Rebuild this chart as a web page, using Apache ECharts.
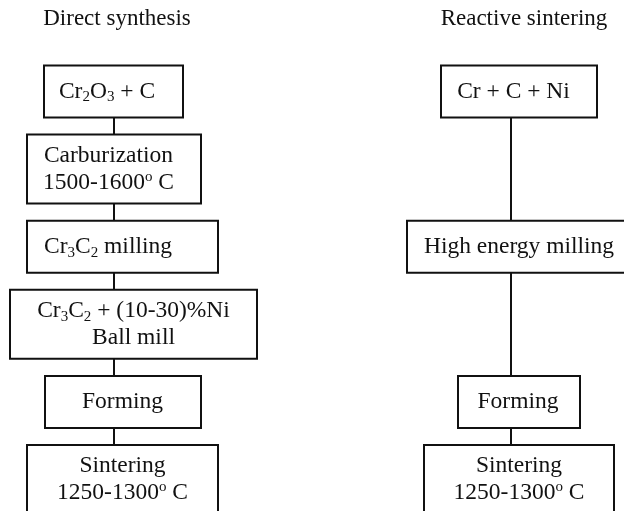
<!DOCTYPE html>
<html>
<head>
<meta charset="utf-8">
<script src="https://cdn.jsdelivr.net/npm/echarts@6/dist/echarts.min.js"></script>
<style>
  html, body { margin: 0; padding: 0; background: #fff; }
  #main { width: 624px; height: 511px; }
</style>
</head>
<body>
<div id="main"></div>
<script>
// two production routes, each a list of steps
const routes = ['Direct synthesis', 'Reactive sintering']
const directSteps = [
  'Cr{s|2}O{s|3} + C',
  'Carburization\n1500-1600{p|o} C',
  'Cr{s|3}C{s|2} milling',
  'Cr{s|3}C{s|2} + (10-30)%Ni\nBall mill',
  'Forming',
  'Sintering\n1250-1300{p|o} C'
]
const reactiveSteps = [
  'Cr + C + Ni',
  'High energy milling',
  'Forming',
  'Sintering\n1250-1300{p|o} C'
]
// row (level) of each step in the diagram
const directRows = [0, 1, 2, 3, 4, 5]
const reactiveRows = [0, 2, 4, 5]

// box layout (px): width, box offset from the connector, text offset
const boxLayout = [
  { w: [139, 174, 191, 247, 156, 191], dx: [-0.5, 0, 8.5, 19.5, 9, 8.5], tx: [-7, -5.5, -6, 19.5, 8.5, 8.5] },
  { w: [156, 232, 122, 190], dx: [8, 12, 8, 8], tx: [2.5, 8, 7, 8] }
]

const FONT = '"Liberation Serif", "Times New Roman", serif'
const INK = '#111'

const steps = [directSteps, reactiveSteps]
const rows = [directRows, reactiveRows]

const boxData = []
steps.forEach((list, col) => {
  list.forEach((s, i) => boxData.push([col, rows[col][i], i]))
})

const chart = echarts.init(document.getElementById('main'))

chart.setOption({
  animation: false,
  grid: { left: 114, right: 113, top: 91.5, bottom: 31.5 },
  xAxis: { type: 'value', min: 0, max: 1, show: false },
  yAxis: { type: 'value', min: 0, max: 5, inverse: true, show: false },
  graphic: [
    { type: 'text', x: 117, y: 19, style: { text: routes[0], font: '23px ' + FONT, fill: INK, align: 'center', verticalAlign: 'middle' } },
    { type: 'text', x: 524, y: 19, style: { text: routes[1], font: '23px ' + FONT, fill: INK, align: 'center', verticalAlign: 'middle' } }
  ],
  series: [
    {
      type: 'line',
      data: directRows.map(r => [0, r]),
      symbol: 'none',
      clip: false,
      lineStyle: { color: INK, width: 2 },
      z: 1
    },
    {
      type: 'line',
      data: reactiveRows.map(r => [1, r]),
      symbol: 'none',
      clip: false,
      lineStyle: { color: INK, width: 2 },
      z: 1
    },
    {
      type: 'custom',
      data: boxData,
      z: 5,
      renderItem: (params, api) => {
        const col = api.value(0)
        const idx = api.value(2)
        const c = api.coord([col, api.value(1)])
        const text = steps[col][idx]
        const lay = boxLayout[col]
        const w = lay.w[idx]
        const h = text.indexOf('\n') >= 0 ? 69 : 52
        const cx = c[0] + lay.dx[idx]
        return {
          type: 'group',
          children: [
            {
              type: 'rect',
              shape: { x: cx - w / 2, y: c[1] - h / 2, width: w, height: h },
              style: { fill: '#fff', stroke: INK, lineWidth: 2 }
            },
            {
              type: 'text',
              x: c[0] + lay.tx[idx],
              y: c[1],
              style: {
                text: text,
                font: '23.5px ' + FONT,
                fill: INK,
                lineHeight: 27,
                align: 'center',
                verticalAlign: 'middle',
                rich: {
                  s: { fontSize: 15, fontFamily: FONT, lineHeight: 15, verticalAlign: 'bottom', fill: INK },
                  p: { fontSize: 15, fontFamily: FONT, lineHeight: 15, verticalAlign: 'top', fill: INK }
                }
              }
            }
          ]
        }
      }
    }
  ]
})
</script>
</body>
</html>
